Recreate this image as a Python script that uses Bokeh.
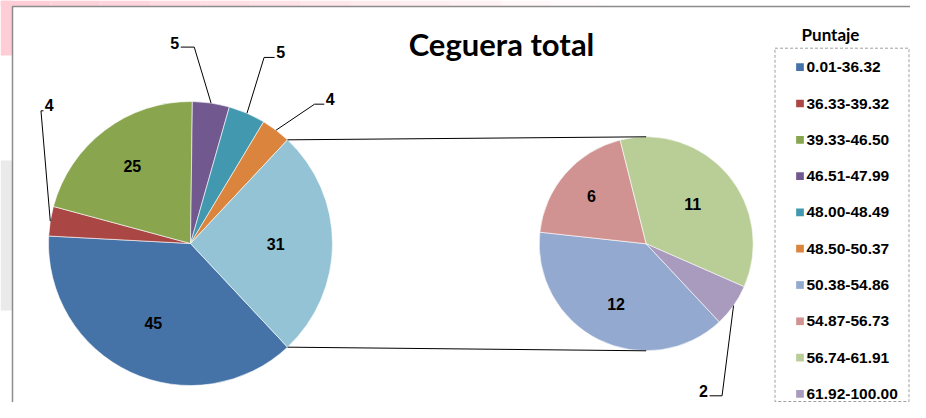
import math
from bokeh.plotting import figure
from bokeh.models import Range1d, ColumnDataSource
from bokeh.core.properties import value
from bokeh.embed import file_html
from bokeh.resources import INLINE

# ---------------- data ----------------
title = "Ceguera total"
legend_title = "Puntaje"
main_labels = ["0.01-36.32", "36.33-39.32", "39.33-46.50", "46.51-47.99", "48.00-48.49", "48.50-50.37"]
main_values = [45, 4, 25, 5, 5, 4]
main_colors = ["#4572A7", "#AA4643", "#89A54E", "#71588F", "#4198AF", "#DB843D"]
other_color = "#93C3D4"
sec_labels = ["50.38-54.86", "54.87-56.73", "56.74-61.91", "61.92-100.00"]
sec_values = [12, 6, 11, 2]
sec_colors = ["#93A9CF", "#D19392", "#B9CD96", "#A99BBD"]

# ---------------- layout (picture px, y down) ----------------
W, H = 910, 402
p = figure(width=W, height=H, output_backend="svg", toolbar_location=None,
           x_range=Range1d(0, W), y_range=Range1d(-H, 0),
           min_border=0, outline_line_color=None)
p.axis.visible = False
p.grid.visible = False
p.background_fill_color = "white"
p.border_fill_color = "white"

def Y(y):
    return -y

# faint pink page background around the chart frame (top-left)
steps = 12
for i in range(steps):
    x0 = i * 50
    p.quad(left=[x0], right=[x0 + 50], top=[Y(0)], bottom=[Y(6)], fill_color="#FFCDD6",
           fill_alpha=max(0.0, 1 - i / steps), line_color=None)
p.quad(left=[0], right=[12], top=[Y(0)], bottom=[Y(55)], fill_color="#FFCDD6", line_color=None)
p.quad(left=[0], right=[12], top=[Y(160)], bottom=[Y(310)], fill_color="#DCDCDC", fill_alpha=0.6, line_color=None)

# chart frame
p.line(x=[12, 12, W], y=[Y(H), Y(6), Y(6)], line_color="#8c8c8c", line_width=1.5)

main_c = (190.0, 243.0)
main_r = 142.0
sec_c = (645.7, 243.3)
sec_r = 107.0

other_value = sum(sec_values)
main_all = main_values + [other_value]
main_all_colors = main_colors + [other_color]
total_main = sum(main_all)
other_span = other_value / total_main * 2 * math.pi
start = -other_span / 2.0


def pie_angles(values, start_angle, total):
    """clockwise slices beginning at start_angle; returns (a_start, a_end, mid)"""
    out = []
    a = start_angle
    for v in values:
        span = v / total * 2 * math.pi
        out.append((a - span, a, a - span / 2))
        a -= span
    return out

main_ang = pie_angles(main_all, start, total_main)
sec_ang = pie_angles(sec_values, start, other_value)

def wedges(center, r, angs, colors):
    src = ColumnDataSource(dict(
        x=[center[0]] * len(angs), y=[Y(center[1])] * len(angs),
        s=[a[0] for a in angs], e=[a[1] for a in angs], c=colors))
    p.wedge(x="x", y="y", radius=r, start_angle="s", end_angle="e", direction="anticlock",
            fill_color="c", line_color="white", line_width=0.6, source=src)

wedges(main_c, main_r, main_ang, main_all_colors)
wedges(sec_c, sec_r, sec_ang, sec_colors)

# connector lines
top_a = other_span / 2
p0 = (main_c[0] + main_r * math.cos(top_a), main_c[1] - main_r * math.sin(top_a))
p1 = (main_c[0] + main_r * math.cos(-top_a), main_c[1] - main_r * math.sin(-top_a))
p.segment(x0=[p0[0], p1[0]], y0=[Y(p0[1]), Y(p1[1])],
          x1=[sec_c[0], sec_c[0]], y1=[Y(sec_c[1] - sec_r), Y(sec_c[1] + sec_r)],
          line_color="black", line_width=1)

def pt(center, r, a, f=1.0):
    return (center[0] + f * r * math.cos(a), center[1] - f * r * math.sin(a))

lab_font = value("Liberation Sans")
# inside labels
inside = [(main_c, main_r, main_ang[0][2], main_all[0], 0.62),
          (main_c, main_r, main_ang[2][2], main_all[2], 0.68),
          (main_c, main_r, main_ang[6][2], main_all[6], 0.60),
          (sec_c, sec_r, sec_ang[0][2], sec_values[0], 0.63),
          (sec_c, sec_r, sec_ang[1][2], sec_values[1], 0.68),
          (sec_c, sec_r, sec_ang[2][2], sec_values[2], 0.57)]
ix, iy, it = [], [], []
for c, r, a, v, f in inside:
    q = pt(c, r, a, f)
    ix.append(q[0]); iy.append(Y(q[1])); it.append(str(v))
p.text(x=ix, y=iy, text=it, text_font=lab_font, text_font_style="bold",
       text_font_size="16px", text_align="center", text_baseline="middle", text_color="black")

# outside labels with leader lines: (center, r, angle, value, elbow offset, label offset from elbow)
outside = [(main_c, main_r, main_ang[1][2], main_all[1], (-9.3, -110.3), (8.2, -5.5)),
           (main_c, main_r, main_ang[3][2], main_all[3], (-16.8, -55.9), (-19.5, -4.3)),
           (main_c, main_r, main_ang[4][2], main_all[4], (17.1, -55.8), (16.5, -5.5)),
           (main_c, main_r, main_ang[5][2], main_all[5], (38.5, -26.0), (15.7, -4.8)),
           (sec_c, sec_r, sec_ang[3][2], sec_values[3], (-11.5, 90.2), (-18.5, -4.8))]
lx, ly, lt = [], [], []
for c, r, a, v, el, lo in outside:
    a0 = pt(c, r, a)
    e = (a0[0] + el[0], a0[1] + el[1])
    hx = e[0] + (lo[0] - 6 if lo[0] > 0 else lo[0] + 6) if abs(lo[0]) > 10 else e[0] + 2.5
    p.line(x=[a0[0], e[0], hx], y=[Y(a0[1]), Y(e[1]), Y(e[1])], line_color="black", line_width=1)
    lx.append(e[0] + lo[0]); ly.append(Y(e[1] + lo[1])); lt.append(str(v))
p.text(x=lx, y=ly, text=lt, text_font=lab_font, text_font_style="bold",
       text_font_size="16px", text_align="center", text_baseline="middle", text_color="black")

# title
p.text(x=[501], y=[Y(43)], text=[title], text_font=value("Lato"), text_font_style="bold",
       text_font_size="31px", text_align="center", text_baseline="alphabetic", text_color="black")

# legend
p.text(x=[830], y=[Y(33.5)], text=[legend_title], text_font=value("Lato"), text_font_style="bold",
       text_font_size="17px", text_align="center", text_baseline="alphabetic", text_color="black")
p.quad(left=[774.5], right=[908.5], top=[Y(47.7)], bottom=[Y(401)], fill_color=None,
       line_color="#a0a0a0", line_width=1, line_dash="3 2")
leg_labels = main_labels + sec_labels
leg_colors = main_colors + sec_colors
row0, step = 66.7, 36.3
ys = [Y(row0 + i * step) for i in range(len(leg_labels))]
p.rect(x=[799.5] * len(ys), y=ys, width=7.7, height=7.7, fill_color=leg_colors, line_color=None)
p.text(x=[806] * len(ys), y=ys, text=leg_labels, text_font=lab_font, text_font_style="bold",
       text_font_size="15.5px", text_align="left", text_baseline="middle", text_color="black")

open("out.html", "w").write(file_html(p, INLINE))
